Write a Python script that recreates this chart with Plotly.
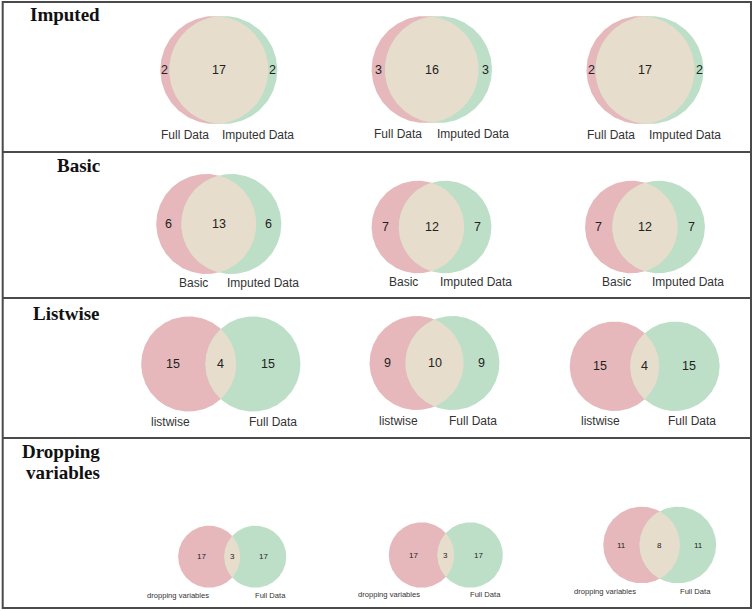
import math
import plotly.graph_objects as go

# ---------------- data ----------------
section_titles = ["Imputed", "Basic", "Listwise", "Dropping variables"]
left_set_names = ["Full Data", "Basic", "listwise", "dropping variables"]
right_set_names = ["Imputed Data", "Imputed Data", "Full Data", "Full Data"]

# counts per section, three Venn diagrams each
left_only = [[2, 3, 2], [6, 7, 7], [15, 9, 15], [17, 17, 11]]
both = [[17, 16, 17], [13, 12, 12], [4, 10, 4], [3, 3, 8]]
right_only = [[2, 3, 2], [6, 7, 7], [15, 9, 15], [17, 17, 11]]

# ---------------- layout (pixel space) ----------------
W, H = 755, 611
# per Venn: centre x, centre y, radius of the circles (px)
venn_cx = [[218.8, 431.8, 645.0], [218.8, 431.5, 645.0], [220.8, 434.5, 644.7], [232.2, 445.8, 659.7]]
venn_cy = [[70, 69.5, 70], [224, 227, 227], [364, 363, 366.3], [556.7, 555, 545]]
venn_r = [[54, 53.5, 54], [50, 46.3, 46.3], [47.5, 47, 44.7], [31, 32.7, 38.3]]
# category label positions
lab_left_x = [[185, 398, 610.7], [193, 403, 616], [170, 398, 600.7], [178.3, 389, 605]]
lab_right_x = [[258, 473, 685], [263, 476, 688], [273, 473, 691.7], [270.7, 485, 695]]
lab_y = [[135, 134, 135], [283, 282, 282], [421.5, 420.5, 420.5], [595, 594.3, 591]]
num_size = [12.5, 12.5, 12.5, 8]
lab_size = [12, 12, 12, 7.6]

# title placement
title_right = 101.5
title_y = [[14], [165], [313.5], [451.5, 472.5]]
title_lines = [["Imputed"], ["Basic"], ["Listwise"], ["Dropping", "variables"]]
sep_y = [2, 152, 298, 438, 608]

RED = "#e6b8bb"
GREEN = "#bddfc7"
BEIGE = "#e7ddcc"
LINE = "#4a4a4a"


def overlap_area(r1, r2, d):
    if d >= r1 + r2:
        return 0.0
    if d <= abs(r1 - r2):
        return math.pi * min(r1, r2) ** 2
    a1 = r1 * r1 * math.acos((d * d + r1 * r1 - r2 * r2) / (2 * d * r1))
    a2 = r2 * r2 * math.acos((d * d + r2 * r2 - r1 * r1) / (2 * d * r2))
    a3 = 0.5 * math.sqrt((-d + r1 + r2) * (d + r1 - r2) * (d - r1 + r2) * (d + r1 + r2))
    return a1 + a2 - a3


def solve_distance(r1, r2, target):
    lo, hi = abs(r1 - r2) + 1e-9, r1 + r2
    for _ in range(100):
        mid = (lo + hi) / 2
        if overlap_area(r1, r2, mid) > target:
            lo = mid
        else:
            hi = mid
    return (lo + hi) / 2


def circle_pts(cx, cy, r, n=180):
    xs = [cx + r * math.cos(2 * math.pi * k / n) for k in range(n + 1)]
    ys = [cy + r * math.sin(2 * math.pi * k / n) for k in range(n + 1)]
    return xs, ys


def lens_pts(x1, x2, cy, r1, r2, n=90):
    d = x2 - x1
    a = (d * d + r1 * r1 - r2 * r2) / (2 * d)
    h = math.sqrt(max(r1 * r1 - a * a, 0))
    t1 = math.atan2(h, a)       # on circle 1 (left), right-hand arc
    t2 = math.atan2(h, a - d)   # on circle 2 (right), left-hand arc
    xs, ys = [], []
    for k in range(n + 1):
        t = -t1 + 2 * t1 * k / n
        xs.append(x1 + r1 * math.cos(t))
        ys.append(cy + r1 * math.sin(t))
    for k in range(n + 1):
        t = t2 + (2 * math.pi - 2 * t2) * k / n
        xs.append(x2 + r2 * math.cos(t))
        ys.append(cy + r2 * math.sin(t))
    return xs, ys


fig = go.Figure()
annotations = []

for s in range(4):
    for v in range(3):
        a_only, ab, b_only = left_only[s][v], both[s][v], right_only[s][v]
        A, B = a_only + ab, b_only + ab
        r1 = venn_r[s][v]
        scale = r1 / math.sqrt(A)
        r2 = scale * math.sqrt(B)
        target = ab / A * math.pi * r1 * r1
        d = solve_distance(r1, r2, target)
        cx, cy = venn_cx[s][v], venn_cy[s][v]
        x1, x2 = cx - d / 2, cx + d / 2

        for (xc, rr, col) in ((x1, r1, RED), (x2, r2, GREEN)):
            xs, ys = circle_pts(xc, cy, rr)
            fig.add_trace(go.Scatter(x=xs, y=ys, mode="lines", fill="toself",
                                     fillcolor=col, line=dict(width=0, color=col),
                                     hoverinfo="skip", showlegend=False))
        xs, ys = lens_pts(x1, x2, cy, r1, r2)
        fig.add_trace(go.Scatter(x=xs, y=ys, mode="lines", fill="toself",
                                 fillcolor=BEIGE, line=dict(width=0, color=BEIGE),
                                 hoverinfo="skip", showlegend=False))

        # region count labels
        left_lx = ((x1 - r1) + (x2 - r2)) / 2
        mid_lx = ((x2 - r2) + (x1 + r1)) / 2
        right_lx = ((x1 + r1) + (x2 + r2)) / 2
        for lx, val in ((left_lx, a_only), (mid_lx, ab), (right_lx, b_only)):
            annotations.append(dict(x=lx, y=cy, xref="x", yref="y", text=str(val),
                                    showarrow=False, xanchor="center", yanchor="middle",
                                    font=dict(family="Liberation Sans, Arial", size=num_size[s], color="#222")))
        # category labels
        annotations.append(dict(x=lab_left_x[s][v], y=lab_y[s][v], xref="x", yref="y",
                                text=left_set_names[s], showarrow=False, xanchor="center", yanchor="middle",
                                font=dict(family="Liberation Sans, Arial", size=lab_size[s], color="#333")))
        annotations.append(dict(x=lab_right_x[s][v], y=lab_y[s][v], xref="x", yref="y",
                                text=right_set_names[s], showarrow=False, xanchor="center", yanchor="middle",
                                font=dict(family="Liberation Sans, Arial", size=lab_size[s], color="#333")))

    for line_text, ty in zip(title_lines[s], title_y[s]):
        annotations.append(dict(x=title_right, y=ty, xref="x", yref="y", text="<b>%s</b>" % line_text,
                                showarrow=False, xanchor="right", yanchor="middle",
                                font=dict(family="Liberation Serif, Times New Roman", size=19, color="#111")))

shapes = [dict(type="rect", xref="x", yref="y", x0=2.7, x1=751, y0=sep_y[0], y1=sep_y[-1],
               line=dict(color=LINE, width=2), fillcolor="rgba(0,0,0,0)", layer="above")]
for yy in sep_y[1:-1]:
    shapes.append(dict(type="line", xref="x", yref="y", x0=2.7, x1=751, y0=yy, y1=yy,
                       line=dict(color=LINE, width=2), layer="above"))

fig.update_layout(
    width=W, height=H, margin=dict(l=0, r=0, t=0, b=0),
    paper_bgcolor="white", plot_bgcolor="white",
    xaxis=dict(range=[0, W], visible=False, fixedrange=True),
    yaxis=dict(range=[H, 0], visible=False, fixedrange=True),
    annotations=annotations, shapes=shapes, showlegend=False,
)

fig.write_html("out.html", config={"displayModeBar": False},
               post_script="document.body.style.margin='0';document.body.style.overflow='hidden';")
